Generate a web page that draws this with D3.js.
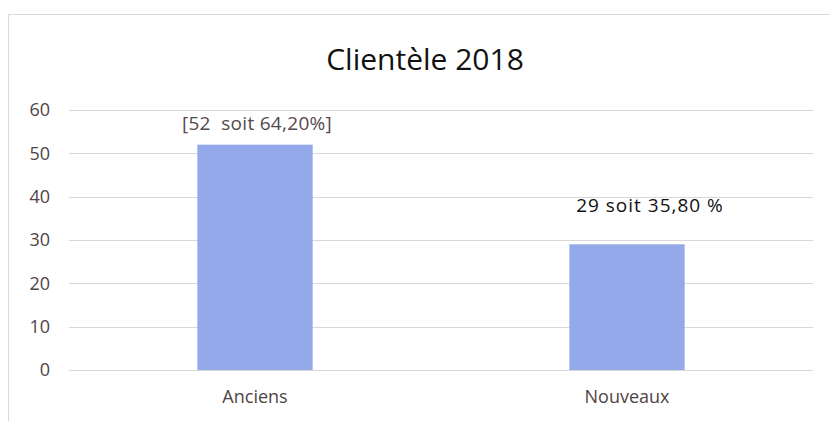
<!DOCTYPE html>
<html>
<head>
<meta charset="utf-8">
<script src="https://cdn.jsdelivr.net/npm/d3@7"></script>
<style>
  body { margin: 0; background: #fff; }
  svg { display: block; }
  svg text { font-family: "Open Sans", "Noto Sans", sans-serif; }
</style>
</head>
<body>
<div id="chart"></div>
<script>
const categories = ["Anciens", "Nouveaux"];
const values = [52, 29];
const dataLabels = ["[52  soit 64,20%]", "29 soit 35,80 %"];
const yTicks = [0, 10, 20, 30, 40, 50, 60];
const title = "Clientèle 2018";

document.addEventListener("DOMContentLoaded", () => {
    const width = 830, height = 421;
    const margin = { top: 110, right: 17, bottom: 51, left: 69 };

    const svg = d3.select("#chart").append("svg")
        .attr("width", width)
        .attr("height", height);

    // chart frame
    svg.append("rect")
        .attr("x", 8.5).attr("y", 14.5)
        .attr("width", 840).attr("height", 440)
        .attr("fill", "none")
        .attr("stroke", "#d9d9d9");

    const xScale = d3.scaleBand()
        .domain(categories)
        .range([margin.left, width - margin.right])
        .paddingInner(0.69)
        .paddingOuter(0.345);

    const yScale = d3.scaleLinear()
        .domain([0, 60])
        .range([height - margin.bottom, margin.top]);

    // gridlines
    svg.append("g")
        .selectAll("line")
        .data(yTicks)
        .enter()
        .append("line")
        .attr("x1", margin.left)
        .attr("x2", width - margin.right)
        .attr("y1", d => Math.round(yScale(d)) + 0.5)
        .attr("y2", d => Math.round(yScale(d)) + 0.5)
        .attr("stroke", "#d9d9d9")
        .attr("stroke-width", 1);

    // y axis labels
    const yAxis = svg.append("g")
        .attr("transform", `translate(${margin.left - 19},0)`)
        .call(d3.axisLeft(yScale).tickValues(yTicks).tickSize(0).tickPadding(0));
    yAxis.select(".domain").remove();
    yAxis.attr("font-family", null).attr("font-size", null);
    yAxis.selectAll("text")
        .attr("fill", "#4f4446")
        .style("font-size", "18px");

    // bars
    svg.selectAll("rect.bar")
        .data(values)
        .enter()
        .append("rect")
        .attr("class", "bar")
        .attr("x", (d, i) => xScale(categories[i]))
        .attr("y", d => yScale(d))
        .attr("width", xScale.bandwidth())
        .attr("height", d => yScale(0) - yScale(d))
        .attr("fill", "#93a9e9");

    // x axis labels
    const xAxis = svg.append("g")
        .attr("transform", `translate(0,${height - margin.bottom})`)
        .call(d3.axisBottom(xScale).tickSize(0).tickPadding(20));
    xAxis.select(".domain").remove();
    xAxis.attr("font-family", null).attr("font-size", null);
    xAxis.selectAll("text")
        .attr("fill", "#4f4446")
        .style("font-size", "18px");

    // data labels (the second one sits a bit right of its bar in the original)
    svg.selectAll("text.label")
        .data(values)
        .enter()
        .append("text")
        .attr("class", "label")
        .attr("x", (d, i) => xScale(categories[i]) + xScale.bandwidth() / 2 + (i === 0 ? 2 : 23))
        .attr("y", (d, i) => i === 0 ? yScale(d) - 15 : yScale(d) - 32)
        .attr("text-anchor", "middle")
        .attr("fill", (d, i) => i === 0 ? "#54494c" : "#111")
        .style("font-size", "19px")
        .style("white-space", "pre")
        .style("letter-spacing", (d, i) => i === 0 ? "0.3px" : "1px")
        .text((d, i) => dataLabels[i]);

    // title
    svg.append("text")
        .attr("x", 425)
        .attr("y", 70)
        .attr("text-anchor", "middle")
        .attr("fill", "#111")
        .style("font-size", "30px")
        .text(title);
});
</script>
</body>
</html>
